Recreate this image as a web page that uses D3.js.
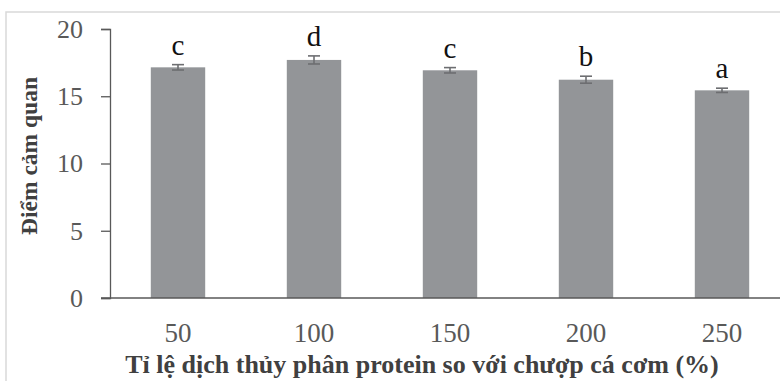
<!DOCTYPE html>
<html>
<head>
<meta charset="utf-8">
<script src="https://cdn.jsdelivr.net/npm/d3@7"></script>
<style>
  body { margin: 0; background: #fff; }
  svg, svg text { font-family: "Liberation Serif", "Times New Roman", serif; }
</style>
</head>
<body>
<div id="chart"></div>
<script>
// chart values
const categories = ["50", "100", "150", "200", "250"];
const means = [17.15, 17.70, 16.93, 16.23, 15.44];
const errors = [0.20, 0.30, 0.20, 0.26, 0.16];
const letters = ["c", "d", "c", "b", "a"];
const yTicks = [0, 5, 10, 15, 20];

const width = 780, height = 381;
const plot = { left: 110, right: 790, top: 29, bottom: 298 };

const svg = d3.select("#chart")
    .append("svg")
    .attr("width", width)
    .attr("height", height)
    .style("display", "block");

// light frame around the figure
svg.append("rect")
    .attr("x", 6).attr("y", 12)
    .attr("width", 800).attr("height", 400)
    .attr("fill", "none")
    .attr("stroke", "#d9d9d9")
    .attr("stroke-width", 1.5);

const x = d3.scaleBand()
    .domain(categories)
    .range([plot.left, plot.right])
    .paddingInner(0.6)
    .paddingOuter(0.3);

const y = d3.scaleLinear()
    .domain([0, 20])
    .range([plot.bottom, plot.top]);

// bars
svg.append("g")
    .selectAll("rect")
    .data(categories)
    .enter()
    .append("rect")
    .attr("x", d => x(d))
    .attr("y", (d, i) => y(means[i]))
    .attr("width", x.bandwidth())
    .attr("height", (d, i) => y(0) - y(means[i]))
    .attr("fill", "#939598");

// error bars
const err = svg.append("g")
    .attr("stroke", "#6d6e71")
    .attr("stroke-width", 1.6);

categories.forEach((c, i) => {
    const cx = x(c) + x.bandwidth() / 2;
    const hi = y(means[i] + errors[i]), lo = y(means[i] - errors[i]);
    err.append("line").attr("x1", cx).attr("x2", cx).attr("y1", hi).attr("y2", lo);
    err.append("line").attr("x1", cx - 6).attr("x2", cx + 6).attr("y1", hi).attr("y2", hi);
    err.append("line").attr("x1", cx - 6).attr("x2", cx + 6).attr("y1", lo).attr("y2", lo);
});

// significance letters
svg.append("g")
    .selectAll("text")
    .data(categories)
    .enter()
    .append("text")
    .attr("x", d => x(d) + x.bandwidth() / 2)
    .attr("y", (d, i) => y(means[i] + errors[i]) - 10)
    .attr("text-anchor", "middle")
    .attr("font-size", 29)
    .attr("fill", "#111")
    .text((d, i) => letters[i]);

// y axis
const yAxis = svg.append("g")
    .attr("transform", `translate(${plot.left},0)`)
    .call(d3.axisLeft(y).tickValues(yTicks).tickSize(9).tickPadding(18))
    .attr("font-family", null);

yAxis.select(".domain").attr("stroke", "#595959").attr("stroke-width", 1.3);
yAxis.selectAll(".tick line").attr("stroke", "#595959").attr("stroke-width", 1.3);
yAxis.selectAll(".tick text")
    .attr("font-size", 26)
    .attr("fill", "#595959");

// x axis
const xAxis = svg.append("g")
    .attr("transform", `translate(0,${plot.bottom})`)
    .call(d3.axisBottom(x).tickSize(0).tickPadding(25))
    .attr("font-family", null);

xAxis.select(".domain")
    .attr("d", `M${plot.left - 9},0H${width}`)
    .attr("stroke", "#595959").attr("stroke-width", 1.3);
xAxis.selectAll(".tick text")
    .attr("font-size", 27)
    .attr("fill", "#595959");

// axis titles
svg.append("text")
    .attr("x", 422)
    .attr("y", 373)
    .attr("text-anchor", "middle")
    .attr("font-size", 26)
    .attr("font-weight", "bold")
    .attr("fill", "#404040")
    .text("Tỉ lệ dịch thủy phân protein so với chượp cá cơm (%)");

svg.append("text")
    .attr("transform", "translate(37,156) rotate(-90)")
    .attr("text-anchor", "middle")
    .attr("font-size", 23.5)
    .attr("font-weight", "bold")
    .attr("fill", "#404040")
    .text("Điểm cảm quan");
</script>
</body>
</html>
